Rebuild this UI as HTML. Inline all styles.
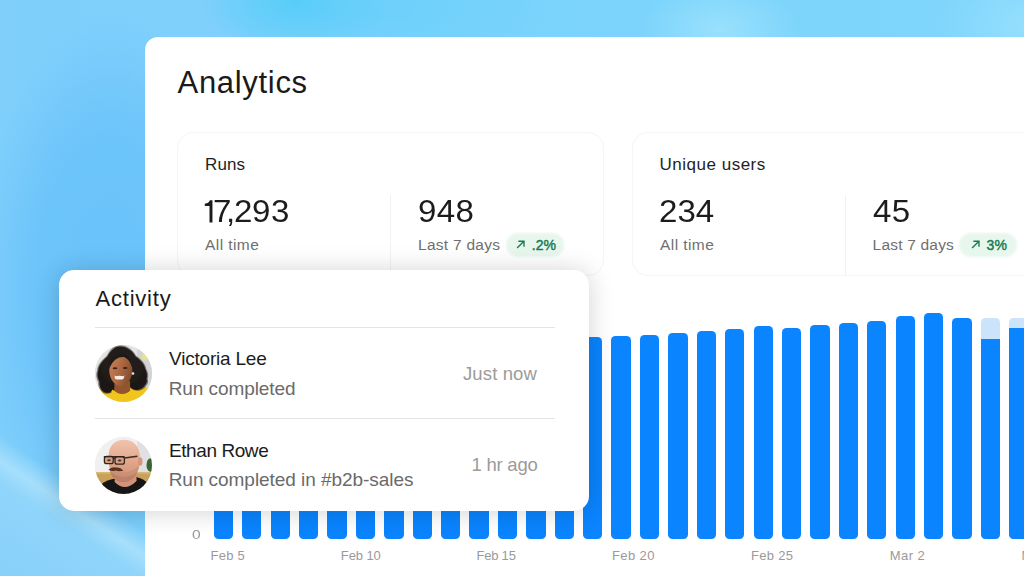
<!DOCTYPE html>
<html><head><meta charset="utf-8">
<style>
*{box-sizing:border-box;margin:0;padding:0}
html,body{width:1024px;height:576px;overflow:hidden}
body{font-family:"Liberation Sans",sans-serif;position:relative;background:#79cbf9;color:#1c1c1c}
.bg{position:absolute;left:0;top:0;width:1024px;height:576px;overflow:hidden;
 background:
  radial-gradient(ellipse 95px 50px at 296px 2px, rgba(88,205,249,1), rgba(88,205,249,0) 100%),
  radial-gradient(ellipse 170px 60px at 380px 10px, rgba(104,208,250,.8), rgba(104,208,250,0) 100%),
  radial-gradient(ellipse 80px 50px at 720px 30px, rgba(156,226,253,.9), rgba(156,226,253,0) 100%),
  radial-gradient(ellipse 90px 60px at 1030px 25px, rgba(152,224,253,.9), rgba(152,224,253,0) 100%),
  radial-gradient(ellipse 135px 275px at 110px 290px, rgba(104,194,250,.95) 0%, rgba(106,195,250,.9) 55%, rgba(108,197,250,0) 100%),
  linear-gradient(90deg,#80cffb 0%,#7fd0fb 22%,#7ad3fb 50%,#80d6fc 100%);}
.band{position:absolute;left:-60px;top:494px;width:300px;height:150px;transform:rotate(33.2deg);transform-origin:50% 0;
 background:linear-gradient(180deg,rgba(168,224,252,0) 0px,rgba(168,224,252,.95) 22px,rgba(150,215,250,.75) 40px,rgba(132,206,249,.8) 150px)}
.panel{position:absolute;left:145px;top:37px;width:900px;height:560px;background:#fff;border-radius:13px 0 0 0}
.t{position:absolute;white-space:nowrap;line-height:1}
.h1{left:177px;top:66px;font-size:31px;color:#1a1a1a}
.card{position:absolute;top:132px;height:144px;border:1px solid #f5f5f5;border-radius:16px;background:#fff}
.lab{font-size:17px;color:#1f1f1f}
.num{font-size:31.5px;color:#1c1c1c}
.sub{font-size:15.5px;color:#6f6f6f}
.sx{transform:scaleX(1.05);transform-origin:0 0;letter-spacing:.3px}
.d{position:absolute;top:0;transform:scaleX(1.05);transform-origin:0 0}
.arr{position:absolute;left:9.6px;top:7.4px;width:9.2px;height:9.2px}
.badge span{position:absolute;left:25.4px;top:5.05px;line-height:1}
.vd{position:absolute;width:1px;background:#f1f1f1;top:195px;height:80px}
.badge{position:absolute;top:233px;height:23.6px;width:58px;color:#1d7a51;font-size:14px;-webkit-text-stroke:.45px #1d7a51}
.badge::before{content:"";position:absolute;left:0;top:0;right:0;bottom:0;border-radius:11.8px;background:#e8f7ee;filter:blur(.8px)}
.act{position:absolute;left:59px;top:269.6px;width:530px;height:241px;background:#fff;border-radius:15px;box-shadow:0 1px 26px rgba(0,0,0,.18)}
.hr{position:absolute;left:95px;width:460px;height:1px;background:#e3e3e3}
.name{font-size:19px;color:#1c1c1c}
.desc{font-size:19px;color:#6a6a6a}
.time{font-size:18.5px;color:#9b9b9b}
.ax{font-size:13px;color:#9a9a9a}
.bar{position:absolute;width:19.3px;background:#0a84ff;border-radius:4.5px}
.av{position:absolute;left:95px;width:57px;height:57px;border-radius:50%;overflow:hidden}
</style></head><body>
<div class="bg"><div class="band"></div></div>
<div class="panel"></div>
<div class="t h1" style="left:177.6px;top:66.8px;letter-spacing:.68px">Analytics</div>

<div class="card" style="left:177px;width:427px"></div>
<div class="card" style="left:632px;width:427px"></div>
<div class="t lab" style="left:205px;top:155.8px;letter-spacing:.1px">Runs</div>
<div class="t num" style="left:0;top:195.8px">
<svg style="position:absolute;left:204px;top:4.2px;width:9px;height:23px;overflow:visible" viewBox="204 200 9 23"><path d="M209.9 200.35 H212.45 V222.6 H209.5 V205.9 H204.8 V203.7 C207.4 203.6 209.3 202.4 209.9 200.35Z" fill="#1c1c1c"/></svg><span class="d" style="left:213px">7</span><span class="d" style="left:226.2px">,</span><span class="d" style="left:234.2px">2</span><span class="d" style="left:252.4px">9</span><span class="d" style="left:270.5px">3</span></div>
<div class="t sub" style="left:205px;top:237.1px;letter-spacing:.43px">All time</div>
<div class="vd" style="left:390px"></div>
<div class="t num sx" style="left:418.2px;top:195.8px">948</div>
<div class="t sub" style="left:418px;top:237px;letter-spacing:.27px">Last 7 days</div>
<div class="badge" style="left:506.4px"><svg class="arr" viewBox="0 0 10 10"><path d="M1.2 8.8 L8.6 1.4 M2.6 1.3 H8.7 V7.4" fill="none" stroke="#1b7a50" stroke-width="1.5"/></svg><span>.2%</span></div>

<div class="t lab" style="left:659.6px;top:155.9px;letter-spacing:.5px">Unique users</div>
<div class="t num sx" style="left:659px;top:195.8px;letter-spacing:0">234</div>
<div class="t sub" style="left:660px;top:237.1px;letter-spacing:.43px">All time</div>
<div class="vd" style="left:845px"></div>
<div class="t num sx" style="left:872.6px;top:195.8px">45</div>
<div class="t sub" style="left:872.6px;top:237px;letter-spacing:.2px">Last 7 days</div>
<div class="badge" style="left:959px"><svg class="arr" style="left:12px" viewBox="0 0 10 10"><path d="M1.2 8.8 L8.6 1.4 M2.6 1.3 H8.7 V7.4" fill="none" stroke="#1b7a50" stroke-width="1.5"/></svg><span style="left:27.6px">3%</span></div>

<div id="bars">
<div class="bar" style="left:213.75px;top:345px;height:193.90px"></div>
<div class="bar" style="left:242.16px;top:345px;height:193.90px"></div>
<div class="bar" style="left:270.57px;top:345px;height:193.90px"></div>
<div class="bar" style="left:298.98px;top:345px;height:193.90px"></div>
<div class="bar" style="left:327.39px;top:345px;height:193.90px"></div>
<div class="bar" style="left:355.80px;top:345px;height:193.90px"></div>
<div class="bar" style="left:384.21px;top:345px;height:193.90px"></div>
<div class="bar" style="left:412.62px;top:345px;height:193.90px"></div>
<div class="bar" style="left:441.03px;top:345px;height:193.90px"></div>
<div class="bar" style="left:469.44px;top:345px;height:193.90px"></div>
<div class="bar" style="left:497.85px;top:345px;height:193.90px"></div>
<div class="bar" style="left:526.26px;top:345px;height:193.90px"></div>
<div class="bar" style="left:554.67px;top:345px;height:193.90px"></div>
<div class="bar" style="left:583.08px;top:337px;height:201.90px"></div>
<div class="bar" style="left:611.49px;top:335.75px;height:203.15px"></div>
<div class="bar" style="left:639.90px;top:334.5px;height:204.40px"></div>
<div class="bar" style="left:668.31px;top:333.25px;height:205.65px"></div>
<div class="bar" style="left:696.72px;top:331px;height:207.90px"></div>
<div class="bar" style="left:725.13px;top:329px;height:209.90px"></div>
<div class="bar" style="left:753.54px;top:326.25px;height:212.65px"></div>
<div class="bar" style="left:781.95px;top:327.5px;height:211.40px"></div>
<div class="bar" style="left:810.36px;top:325px;height:213.90px"></div>
<div class="bar" style="left:838.77px;top:322.8px;height:216.10px"></div>
<div class="bar" style="left:867.18px;top:320.6px;height:218.30px"></div>
<div class="bar" style="left:895.59px;top:315.8px;height:223.10px"></div>
<div class="bar" style="left:924.00px;top:313.4px;height:225.50px"></div>
<div class="bar" style="left:952.41px;top:318px;height:220.90px"></div>
<div class="bar" style="left:980.82px;top:318px;height:220.90px;background:#cbe3fb"></div>
<div class="bar" style="left:980.82px;top:339px;height:199.90px;border-radius:0 0 4.5px 4.5px"></div>
<div class="bar" style="left:1009.23px;top:318px;height:220.90px;background:#cbe3fb"></div>
<div class="bar" style="left:1009.23px;top:327.6px;height:211.30px;border-radius:0 0 4.5px 4.5px"></div>
</div><!--eb-->
<div class="t ax" style="left:192px;top:528.3px;transform:scaleX(1.2);transform-origin:0 0">0</div>
<div class="t ax" style="left:210.6px;top:549px;letter-spacing:.2px">Feb 5</div>
<div class="t ax" style="left:340.8px;top:549px;letter-spacing:-.1px">Feb 10</div>
<div class="t ax" style="left:476.4px;top:549px;letter-spacing:-.2px">Feb 15</div>
<div class="t ax" style="left:612px;top:549px;letter-spacing:.4px">Feb 20</div>
<div class="t ax" style="left:751px;top:549px;letter-spacing:.3px">Feb 25</div>
<div class="t ax" style="left:889.8px;top:549px;letter-spacing:.4px">Mar 2</div>
<div class="t ax" style="left:1021.4px;top:549px">Mar 7</div>

<div class="act"></div>
<div class="t" style="left:95.5px;top:288.4px;font-size:22px;color:#1a1a1a;letter-spacing:.78px">Activity</div>
<div class="hr" style="top:326.6px"></div>
<div class="av" id="av1" style="top:345px"><svg width="57" height="57" viewBox="0 0 57 57">
<defs><filter id="b1" x="-10%" y="-10%" width="120%" height="120%"><feGaussianBlur stdDeviation="0.75"/></filter>
<linearGradient id="f1" x1="0" y1="0" x2="1" y2="0.4"><stop offset="0" stop-color="#c9845a"/><stop offset=".5" stop-color="#b36c44"/><stop offset="1" stop-color="#87502f"/></linearGradient>
<radialGradient id="h1" cx=".5" cy=".4" r=".7"><stop offset="0" stop-color="#2a2220"/><stop offset="1" stop-color="#191514"/></radialGradient></defs>
<rect width="57" height="57" fill="#dedede"/>
<g filter="url(#b1)">
<rect x="0" y="0" width="57" height="57" fill="#e4e4e4"/>
<rect x="42" y="0" width="15" height="57" fill="#d3d3d6"/>
<ellipse cx="50" cy="11.5" rx="3" ry="3.6" fill="#e6e48a"/>
<path d="M-2 60 L-2 47 Q10 40 20 41 L36 41 Q48 40 60 46 L60 60Z" fill="#f1c61f"/>
<g filter="url(#b1)" opacity=".55"><path d="M25.5 1.4 C20 1 15.5 5.5 12.5 11.5 C7 16.5 3.8 20.5 3.4 25 C1.8 29 2.6 33 4.4 36.5 C4.2 42 6.6 46 10 47.4 C15 48.8 20 46 21 42 L35 42 C38 45.5 44 46 48 42.6 C51.6 39 52.6 36 51.5 34 C52.6 30 51.8 27 50.2 24 C49.4 19 45.5 15 40.5 11.5 C37.5 5.5 31.5 1.6 25.5 1.4Z" fill="#2b211d" transform="translate(-1.4 -1.3) scale(1.05)"/></g><path d="M25.5 1.4 C20 1 15.5 5.5 12.5 11.5 C7 16.5 3.8 20.5 3.4 25 C1.8 29 2.6 33 4.4 36.5 C4.2 42 6.6 46 10 47.4 C15 48.8 20 46 21 42 L35 42 C38 45.5 44 46 48 42.6 C51.6 39 52.6 36 51.5 34 C52.6 30 51.8 27 50.2 24 C49.4 19 45.5 15 40.5 11.5 C37.5 5.5 31.5 1.6 25.5 1.4Z" fill="url(#h1)"/>
<path d="M19.5 38 L19.2 46 Q27 53 35.2 46 L35 36Z" fill="#93542f"/>
<path d="M17.5 44.5 Q27 53.5 37 44.5 L39 47 Q27 57.5 16 47Z" fill="#f1c61f"/>
<ellipse cx="25.8" cy="25.2" rx="11.5" ry="15.8" fill="url(#f1)"/>
<path d="M14.2 24 C14 14 19 8.6 26 8.8 C33 9 37.6 14 37.6 24 C36 18 33 13.5 29 12 C24 11.5 18 14 14.2 24Z" fill="#1f1a18"/>
<ellipse cx="24.3" cy="32.7" rx="4.7" ry="1.9" fill="#f6eee8"/>
<path d="M18.6 30.6 Q24.3 37.4 30.4 30.6 Q24.3 33 18.6 30.6Z" fill="#f6eee8"/>
<ellipse cx="20" cy="23.3" rx="2.3" ry="1" fill="#3a2018"/>
<ellipse cx="30.2" cy="23" rx="2.3" ry="1" fill="#3a2018"/>
<circle cx="38" cy="28.6" r="1.25" fill="#f4ece6"/>
</g></svg></div>
<div class="t name" style="left:169px;top:349.2px;letter-spacing:-.2px">Victoria Lee</div>
<div class="t desc" style="left:168.7px;top:379.1px;letter-spacing:-.08px">Run completed</div>
<div class="t time" style="left:463px;top:364.5px;letter-spacing:.12px">Just now</div>
<div class="hr" style="top:418.2px"></div>
<div class="av" id="av2" style="top:436.6px"><svg width="57" height="57" viewBox="0 0 57 57">
<defs><filter id="b2" x="-10%" y="-10%" width="120%" height="120%"><feGaussianBlur stdDeviation="0.75"/></filter>
<linearGradient id="f2" x1="0" y1="0" x2="0" y2="1"><stop offset="0" stop-color="#f0c3ad"/><stop offset=".5" stop-color="#e3a88c"/><stop offset="1" stop-color="#c98b70"/></linearGradient></defs>
<rect width="57" height="57" fill="#ececec"/>
<g filter="url(#b2)">
<rect x="0" y="0" width="57" height="36" fill="#f0f0f0"/>
<rect x="42" y="0" width="15" height="36" fill="#e0e0e3"/>
<rect x="-2" y="35.5" width="61" height="24" fill="#c9a15a"/>
<rect x="-2" y="35" width="61" height="1.6" fill="#d8b878"/>
<ellipse cx="55.5" cy="28" rx="4" ry="6.8" fill="#3a6633"/>
<path d="M3 60 L6 47.5 Q12 42.5 21 41.5 L41 40 Q50 42 53 47 L56 60Z" fill="#131313"/>
<path d="M20 36 L19.6 45 Q30 55.5 41.6 44 L41 32Z" fill="#d3937a"/>
<path d="M13.6 20 C13 9 20 2.6 29.5 2.8 C39 3 45 10 44.8 20 C45 26 44.4 30 42.4 35 C39.6 42 33 45.4 27 45 C21 44.4 16 40 15 33 C14 28 13.6 24 13.6 20Z" fill="url(#f2)"/>
<path d="M15.2 34 C16.5 40 21 44.4 27 45 C33 45.4 39.4 42 42.4 35 C38 39 32 40 27 39.6 C22 39 18 37 15.2 34Z" fill="#b0775f" opacity=".9"/><path d="M15 30 C15 36 18 41 23 43.5 C30 46 38 43 42.4 35 C43.6 32 44 30 44.4 28 C40 33 34 35.6 28 35.4 C22 35 18 33 15 30Z" fill="#c48a70" opacity=".55"/>
<ellipse cx="45.2" cy="24.5" rx="2.3" ry="4.3" fill="#d9967c"/>
<path d="M29.3 21 L42.4 19.3" stroke="#3b2c28" stroke-width="1.4" fill="none"/>
<rect x="9.4" y="19.3" width="8.8" height="7.4" rx="2.2" fill="#d6a088" stroke="#33261f" stroke-width="1.3"/>
<rect x="20" y="19.6" width="9.4" height="7.6" rx="2.2" fill="#d6a088" stroke="#33261f" stroke-width="1.3"/>
<ellipse cx="14" cy="23.2" rx="1.8" ry="1" fill="#4a3228"/>
<ellipse cx="24.6" cy="23.5" rx="1.9" ry="1" fill="#4a3228"/>
<path d="M18 21.2 H20.2" stroke="#33261f" stroke-width="1.4"/><path d="M8.8 19.7 H29.6" stroke="#2e221c" stroke-width="1.3"/>
<path d="M13.4 32.8 Q17 29.2 21 30.6 Q25 29.6 28.4 33.8 Q24 34.6 20.6 33.5 Q17 34.8 13.4 32.8Z" fill="#57331f"/>
</g></svg></div>
<div class="t name" style="left:169px;top:440.6px;letter-spacing:-.42px">Ethan Rowe</div>
<div class="t desc" style="left:168.7px;top:470.2px;letter-spacing:-.05px">Run completed in #b2b-sales</div>
<div class="t time" style="left:471.6px;top:456.3px;letter-spacing:-.25px">1 hr ago</div>
</body></html>
